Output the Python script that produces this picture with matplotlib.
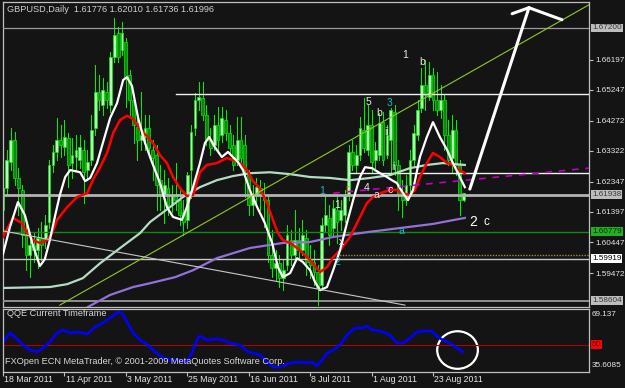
import matplotlib
matplotlib.use("Agg")
import matplotlib.pyplot as plt
from matplotlib.patches import Rectangle, Ellipse

plt.rcParams['font.family'] = ['Liberation Sans', 'DejaVu Sans']

# --- candles (bar index 0 = 18 Mar 2011) ---
opens = [1.6146, 1.6215, 1.6297, 1.6367, 1.6246, 1.6209, 1.6067, 1.6003, 1.6035, 1.6019,
         1.6057, 1.6051, 1.6108, 1.6288, 1.6329, 1.6367, 1.6344, 1.6373, 1.6294, 1.6313,
         1.6303, 1.6335, 1.6272, 1.6303, 1.6404, 1.6518, 1.6477, 1.6518, 1.6477, 1.6629,
         1.6705, 1.6651, 1.6676, 1.6572, 1.6493, 1.6407, 1.6367, 1.6376, 1.6404, 1.6335,
         1.6319, 1.6240, 1.6193, 1.6215, 1.6162, 1.6193, 1.6177, 1.6139, 1.6114, 1.6272,
         1.6404, 1.6493, 1.6499, 1.6445, 1.6367, 1.6351, 1.6414, 1.6382, 1.6430, 1.6389,
         1.6351, 1.6303, 1.6367, 1.6351, 1.6256, 1.6162, 1.6193, 1.6215, 1.6193, 1.6177,
         1.6003, 1.5963, 1.5978, 1.5931, 1.5972, 1.6051, 1.6003, 1.6051, 1.6019, 1.6057,
         1.5988, 1.5982, 1.5950, 1.5909, 1.6099, 1.6121, 1.6089, 1.6146, 1.6114, 1.6130,
         1.6193, 1.6329, 1.6288, 1.6319, 1.6398, 1.6335, 1.6414, 1.6303, 1.6319, 1.6423,
         1.6319, 1.6367, 1.6455, 1.6288, 1.6193, 1.6177, 1.6224, 1.6303, 1.6382, 1.6468,
         1.6540, 1.6502, 1.6572, 1.6493, 1.6461, 1.6493, 1.6382, 1.6310, 1.6398, 1.6288,
         1.6178]
highs = [1.6249, 1.6335, 1.6404, 1.6392, 1.6278, 1.6224, 1.6099, 1.6067, 1.6077, 1.6089,
         1.6108, 1.6130, 1.6303, 1.6351, 1.6436, 1.6414, 1.6430, 1.6389, 1.6373, 1.6382,
         1.6382, 1.6367, 1.6335, 1.6445, 1.6603, 1.6572, 1.6562, 1.6549, 1.6645, 1.6752,
         1.6724, 1.6739, 1.6689, 1.6588, 1.6509, 1.6445, 1.6518, 1.6445, 1.6445, 1.6367,
         1.6351, 1.6288, 1.6272, 1.6246, 1.6224, 1.6294, 1.6209, 1.6177, 1.6266, 1.6414,
         1.6515, 1.6549, 1.6549, 1.6477, 1.6404, 1.6445, 1.6471, 1.6471, 1.6461, 1.6414,
         1.6382, 1.6439, 1.6439, 1.6382, 1.6272, 1.6224, 1.6246, 1.6240, 1.6231, 1.6193,
         1.6083, 1.6019, 1.6003, 1.5988, 1.6099, 1.6083, 1.6146, 1.6089, 1.6114, 1.6083,
         1.6035, 1.6019, 1.5972, 1.6121, 1.6193, 1.6162, 1.6177, 1.6187, 1.6177, 1.6209,
         1.6351, 1.6367, 1.6351, 1.6439, 1.6499, 1.6477, 1.6461, 1.6360, 1.6452, 1.6455,
         1.6414, 1.6468, 1.6477, 1.6303, 1.6240, 1.6256, 1.6335, 1.6414, 1.6493, 1.6594,
         1.6619, 1.6613, 1.6594, 1.6581, 1.6540, 1.6509, 1.6430, 1.6445, 1.6430, 1.6303,
         1.6201]
lows = [1.6130, 1.6193, 1.6272, 1.6224, 1.6130, 1.6029, 1.5956, 1.5934, 1.5982, 1.5963,
        1.5988, 1.6026, 1.6089, 1.6266, 1.6303, 1.6313, 1.6319, 1.6218, 1.6246, 1.6272,
        1.6278, 1.6168, 1.6240, 1.6288, 1.6382, 1.6461, 1.6445, 1.6467, 1.6455, 1.6613,
        1.6613, 1.6635, 1.6471, 1.6445, 1.6357, 1.6303, 1.6335, 1.6335, 1.6313, 1.6240,
        1.6146, 1.6146, 1.6105, 1.6130, 1.6139, 1.6146, 1.6099, 1.6067, 1.6089, 1.6184,
        1.6382, 1.6461, 1.6430, 1.6351, 1.6319, 1.6335, 1.6335, 1.6360, 1.6367, 1.6319,
        1.6272, 1.6288, 1.6288, 1.6187, 1.6130, 1.6130, 1.6162, 1.6146, 1.6092, 1.5982,
        1.5934, 1.5925, 1.5903, 1.5893, 1.5956, 1.5972, 1.5982, 1.5994, 1.6003, 1.5941,
        1.5931, 1.5909, 1.5846, 1.5893, 1.6077, 1.6035, 1.6067, 1.6042, 1.6083, 1.6108,
        1.6177, 1.6272, 1.6266, 1.6303, 1.6329, 1.6319, 1.6262, 1.6278, 1.6303, 1.6288,
        1.6310, 1.6256, 1.6256, 1.6146, 1.6124, 1.6162, 1.6193, 1.6288, 1.6367, 1.6455,
        1.6461, 1.6493, 1.6461, 1.6445, 1.6436, 1.6335, 1.6288, 1.6266, 1.6256, 1.6130,
        1.6174]
closes = [1.6215, 1.6303, 1.6367, 1.6246, 1.6215, 1.6067, 1.6003, 1.6035, 1.6019, 1.6057,
          1.6035, 1.6099, 1.6288, 1.6329, 1.6367, 1.6351, 1.6376, 1.6288, 1.6319, 1.6335,
          1.6344, 1.6266, 1.6297, 1.6398, 1.6518, 1.6493, 1.6524, 1.6493, 1.6629, 1.6698,
          1.6629, 1.6705, 1.6565, 1.6493, 1.6414, 1.6367, 1.6382, 1.6404, 1.6341, 1.6310,
          1.6224, 1.6193, 1.6224, 1.6162, 1.6193, 1.6177, 1.6130, 1.6108, 1.6256, 1.6392,
          1.6493, 1.6502, 1.6445, 1.6367, 1.6341, 1.6414, 1.6367, 1.6436, 1.6389, 1.6341,
          1.6288, 1.6367, 1.6310, 1.6272, 1.6162, 1.6193, 1.6218, 1.6193, 1.6177, 1.6003,
          1.5963, 1.5978, 1.5931, 1.5956, 1.6067, 1.6003, 1.6051, 1.6019, 1.6067, 1.5982,
          1.5972, 1.5950, 1.5900, 1.6099, 1.6130, 1.6067, 1.6152, 1.6108, 1.6146, 1.6193,
          1.6329, 1.6288, 1.6319, 1.6404, 1.6341, 1.6414, 1.6297, 1.6335, 1.6420, 1.6303,
          1.6382, 1.6461, 1.6288, 1.6193, 1.6177, 1.6224, 1.6303, 1.6389, 1.6461, 1.6540,
          1.6509, 1.6572, 1.6493, 1.6461, 1.6493, 1.6382, 1.6303, 1.6398, 1.6288, 1.6177,
          1.6200]

# --- moving averages, read as (bar, price) vertices ---
white_bars = [0.0, 1.8, 3.9, 5.7, 7.6, 9.6, 10.9, 12.2, 13.5, 14.8, 16.2, 17.5, 20.1, 21.4,
              22.7, 24.5, 26.0, 27.9, 29.7, 31.3, 32.3, 33.6, 35.2, 37.0, 38.8, 40.9, 42.7,
              44.3, 46.6, 47.9, 49.5, 51.3, 52.6, 53.7, 55.2, 57.0, 58.6, 59.9, 61.2, 62.5,
              64.3, 66.2, 68.2, 70.1, 71.6, 72.9, 74.8, 76.6, 78.1, 80.0, 81.3, 82.6, 84.4,
              86.0, 87.8, 89.6, 91.2, 93.0, 94.3, 96.1, 98.2, 100.0, 101.3, 102.6, 104.2,
              105.5, 106.8, 108.6, 110.4, 112.0, 113.8, 115.7, 117.2, 119.0, 120.3]
white_vals = [1.6007, 1.6092, 1.6171, 1.6130, 1.6042, 1.5969, 1.5991, 1.6051, 1.6124, 1.6193,
              1.6250, 1.6272, 1.6265, 1.6237, 1.6247, 1.6294, 1.6357, 1.6436, 1.6483, 1.6556,
              1.6565, 1.6537, 1.6436, 1.6357, 1.6297, 1.6231, 1.6155, 1.6124, 1.6115, 1.6155,
              1.6218, 1.6294, 1.6357, 1.6376, 1.6344, 1.6313, 1.6329, 1.6313, 1.6297, 1.6272,
              1.6209, 1.6155, 1.6105, 1.6042, 1.5966, 1.5934, 1.5947, 1.5994, 1.5982, 1.5956,
              1.5918, 1.5893, 1.5903, 1.5956, 1.6019, 1.6105, 1.6177, 1.6250, 1.6281, 1.6278,
              1.6262, 1.6250, 1.6240, 1.6231, 1.6199, 1.6177, 1.6209, 1.6313, 1.6376, 1.6423,
              1.6376, 1.6335, 1.6294, 1.6250, 1.6218]

red_bars = [0.0, 2.6, 4.9, 6.3, 7.8, 9.6, 11.5, 12.8, 14.1, 16.7, 19.3, 21.9, 23.4, 25.3,
            27.1, 28.7, 30.5, 32.3, 33.9, 35.7, 37.5, 39.1, 40.9, 42.7, 44.3, 46.1, 47.9,
            49.5, 51.3, 53.1, 55.7, 58.3, 59.9, 61.7, 63.6, 65.1, 66.9, 68.8, 70.3, 71.6,
            72.9, 74.8, 76.6, 78.1, 80.0, 82.6, 84.4, 86.0, 87.8, 90.4, 93.0, 94.8, 96.4,
            99.0, 100.8, 102.6, 104.2, 106.0, 107.3, 108.6, 110.4, 112.0, 113.8, 115.7,
            117.2, 119.0, 120.3]
red_vals = [1.6061, 1.6121, 1.6105, 1.6073, 1.6051, 1.6042, 1.6051, 1.6073, 1.6115, 1.6155,
            1.6187, 1.6199, 1.6240, 1.6281, 1.6326, 1.6389, 1.6430, 1.6443, 1.6433, 1.6401,
            1.6379, 1.6357, 1.6319, 1.6294, 1.6250, 1.6215, 1.6190, 1.6193, 1.6265, 1.6288,
            1.6294, 1.6310, 1.6303, 1.6294, 1.6272, 1.6237, 1.6215, 1.6168, 1.6115, 1.6073,
            1.6051, 1.6042, 1.6026, 1.6010, 1.5988, 1.5950, 1.5966, 1.5997, 1.6019, 1.6061,
            1.6124, 1.6168, 1.6187, 1.6202, 1.6209, 1.6209, 1.6199, 1.6193, 1.6209, 1.6250,
            1.6294, 1.6326, 1.6313, 1.6294, 1.6288, 1.6272, 1.6262]

mint_bars = [0.0, 12.2, 16.7, 20.8, 25.3, 30.5, 35.7, 38.3, 43.5, 46.9, 51.3, 55.7, 59.9,
             64.3, 69.5, 74.8, 80.0, 85.2, 90.4, 95.6, 100.8, 106.0, 110.4, 114.6, 120.3]
mint_vals = [1.5900, 1.5903, 1.5912, 1.5931, 1.5978, 1.6026, 1.6073, 1.6108, 1.6155, 1.6187,
             1.6218, 1.6240, 1.6253, 1.6262, 1.6265, 1.6259, 1.6250, 1.6247, 1.6240, 1.6247,
             1.6256, 1.6278, 1.6288, 1.6294, 1.6288]

purple_bars = [22.1, 27.9, 33.9, 38.3, 44.8, 49.5, 55.7, 64.3, 72.9, 80.0, 86.0, 94.8,
               103.4, 112.0, 120.3]
purple_vals = [1.5840, 1.5878, 1.5903, 1.5915, 1.5934, 1.5956, 1.5994, 1.6026, 1.6042,
               1.6045, 1.6061, 1.6076, 1.6089, 1.6102, 1.6121]

# --- QQE sub-window ---
qqe_bars = [0.0, 1.8, 3.1, 5.2, 7.0, 8.9, 10.4, 12.2, 14.1, 15.6, 17.5, 19.5, 21.9, 24.0,
            26.0, 27.9, 30.0, 31.0, 32.3, 33.9, 35.7, 37.8, 39.6, 41.7, 43.5, 46.1, 47.9,
            49.2, 50.5, 51.3, 53.1, 55.7, 57.3, 59.1, 61.7, 63.8, 65.1, 66.9, 68.8, 70.3,
            72.2, 74.8, 77.4, 79.2, 80.5, 81.8, 83.1, 84.4, 86.0, 87.8, 89.6, 91.7, 93.5,
            94.8, 96.1, 98.2, 99.5, 100.8, 102.6, 104.2, 106.0, 107.8, 109.4, 111.7, 113.3,
            114.6, 116.4, 118.2, 119.8]
qqe_vals = [51.6, 56.4, 54.2, 50.0, 47.3, 46.3, 48.4, 51.6, 56.4, 58.0, 56.4, 56.9, 55.8,
            59.6, 61.7, 64.4, 67.5, 67.0, 62.2, 56.4, 52.6, 50.0, 46.3, 43.1, 42.0, 42.0,
            40.9, 45.7, 52.6, 54.8, 52.6, 53.2, 52.6, 51.0, 50.0, 46.3, 45.7, 44.7, 40.9,
            38.3, 38.3, 40.4, 40.9, 40.4, 40.9, 38.8, 42.0, 45.7, 47.3, 50.0, 55.3, 59.0,
            59.0, 60.1, 58.0, 57.4, 56.4, 55.3, 51.0, 51.0, 53.7, 56.9, 57.4, 57.4, 54.2,
            52.6, 51.0, 48.4, 46.3]
qqe_max = 69.137
qqe_min = 35.6085

# --- axis texts ---
date_bars = [0, 16, 32, 48, 64, 80, 96, 112]
date_labels = ["18 Mar 2011", "11 Apr 2011", "3 May 2011", "25 May 2011",
               "16 Jun 2011", "8 Jul 2011", "1 Aug 2011", "23 Aug 2011"]
price_ticks = [1.66197, 1.65247, 1.64272, 1.63322, 1.62347, 1.61397, 1.60447, 1.59472]

# --- chart objects ---
level_gray_top = 1.67200
level_gray_mid = 1.61938
level_green = 1.60779
level_white_low = 1.59919
level_gray_low = 1.58604
white_hline1 = (45.1, 1.6512)
white_hline2 = (90.1, 1.6263)
olive_hline = (86.2, 1.6004)
green_trend = ([14.8, 152.6], [1.5846, 1.6793])
gray_trend = ([0.0, 104.7], [1.6080, 1.5846])
magenta_trend = ([86.0, 152.6], [1.6199, 1.6278])
arrow_shaft = ([121.6, 137.0], [1.6212, 1.6784])
arrow_left = ([137.0, 132.6], [1.6784, 1.6765])
arrow_right = ([137.0, 145.6], [1.6784, 1.6746])

label_bars = [104.7, 109.1, 95.1, 97.9, 100.8, 100.0, 101.8, 94.8, 97.2, 100.8,
              83.1, 87.0, 88.3, 87.0, 103.9, 89.6]
label_prices = [1.6635, 1.6613, 1.6487, 1.6452, 1.6483, 1.6392, 1.6281, 1.6216, 1.6194,
                1.6209, 1.6206, 1.6162, 1.6045, 1.5982, 1.6080, 1.6213]
label_texts = ["1", "b", "5", "b", "3", "ii", "ii", "4", "a", "c",
               "1", "1", "x", "2", "a", "r"]
label_colors = ["#e8e8e8", "#e8e8e8", "#e8e8e8", "#e8e8e8", "#20b8b8", "#e8e8e8",
                "#c0c0c0", "#e8e8e8", "#e8e8e8", "#e8e8e8", "#20b8b8", "#e8e8e8",
                "#ffffff", "#20b8b8", "#20b8b8", "#d08020"]

BG = "#141414"
FRAME = "#c0c0c0"
W, H = 625, 388
FS = 5.9

fig = plt.figure(figsize=(6.25, 3.88), dpi=100, facecolor=BG)
ax = fig.add_axes([3 / W, 1 - 307 / H, 586 / W, 305 / H], facecolor=BG)
qx = fig.add_axes([3 / W, 1 - 372 / H, 586 / W, 63 / H], facecolor=BG)

xmax = 586 / 3.839
for a in (ax, qx):
    a.set_xlim(0, xmax)
    for s in a.spines.values():
        s.set_color(FRAME)
        s.set_linewidth(0.9)
ax.set_ylim(1.5840, 1.6802)
qx.set_ylim(qqe_min, qqe_max)

# candles
for i in range(len(closes)):
    o, h, l, c = opens[i], highs[i], lows[i], closes[i]
    ax.plot([i, i], [l, h], color="#00ee00", lw=0.75, zorder=2)
    fc = "#b8f5b8" if c >= o else "#0a8a0a"
    ax.add_patch(Rectangle((i - 0.36, min(o, c)), 0.72, max(abs(c - o), 0.0002),
                           facecolor=fc, edgecolor="#00ee00", lw=0.5, zorder=2))

# horizontal levels
ax.axhline(level_gray_top, color="#9a9a9a", lw=0.9, zorder=3)
ax.axhline(level_gray_mid, color="#b4b4b4", lw=2.0, zorder=3)
ax.axhline(level_green, color="#128a12", lw=1.0, zorder=3)
ax.axhline(level_white_low, color="#c8c8c8", lw=1.0, zorder=3)
ax.axhline(level_gray_low, color="#909090", lw=1.4, zorder=3)
ax.plot([white_hline1[0], xmax], [white_hline1[1]] * 2, color="#f0f0f0", lw=1.0, zorder=3)
ax.plot([white_hline2[0], xmax], [white_hline2[1]] * 2, color="#f0f0f0", lw=1.0, zorder=3)
ax.plot([olive_hline[0], xmax], [olive_hline[1]] * 2, color="#9a8a40", lw=1.0,
        ls=(0, (1, 1)), zorder=3)

# moving averages
ax.plot(purple_bars, purple_vals, color="#9370db", lw=1.6, zorder=4)
ax.plot(mint_bars, mint_vals, color="#b4dcc4", lw=1.6, zorder=4)
ax.plot(red_bars, red_vals, color="#ff0000", lw=1.8, zorder=4)
ax.plot(white_bars, white_vals, color="#ffffff", lw=1.6, zorder=4)

# trend lines
ax.plot(*green_trend, color="#8fcb1f", lw=0.8, zorder=5)
ax.plot(*gray_trend, color="#c8c8c8", lw=0.8, zorder=5)
ax.plot(*magenta_trend, color="#c000c0", lw=1.2, ls=(0, (4, 4)), zorder=5)

# big arrow
for seg in (arrow_shaft, arrow_left, arrow_right):
    ax.plot(*seg, color="#ffffff", lw=2.2, solid_capstyle="round", zorder=6)

# wave labels
for b, p, t, c in zip(label_bars, label_prices, label_texts, label_colors):
    ax.text(b, p, t, color=c, fontsize=7.5, ha="center", va="center", zorder=7)
ax.text(122.4, 1.6108, "2", color="#ffffff", fontsize=10, ha="center", va="center", zorder=7)
ax.text(125.8, 1.6108, "c", color="#ffffff", fontsize=8.5, ha="center", va="center", zorder=7)

# right price scale
ax.yaxis.tick_right()
ax.set_yticks(price_ticks)
ax.set_yticklabels([f"{v:.5f}" for v in price_ticks])
ax.tick_params(axis="y", length=3, color=FRAME, labelcolor="#e6e6e6", labelsize=FS, pad=1.5)
ax.set_xticks([])

boxed = [(level_gray_top, "#bdbdbd", "#3a3a3a"), (level_gray_mid, "#bdbdbd", "#3a3a3a"),
         (level_green, "#22b022", "#0a300a"), (level_white_low, "#ffffff", "#000000"),
         (level_gray_low, "#bdbdbd", "#3a3a3a")]
for v, fc, tc in boxed:
    ax.text(1.005, v, f"{v:.5f}", transform=ax.get_yaxis_transform(), ha="left",
            va="center", fontsize=FS, color=tc, zorder=8, clip_on=False,
            bbox=dict(boxstyle="square,pad=0.12", fc=fc, ec="none"))

fig.text(7 / W, 1 - 10 / H, "GBPUSD,Daily  1.61776 1.62010 1.61736 1.61996",
         color="#d0d0d0", fontsize=6.6, va="center", ha="left")

# QQE
qx.axhline(50, color="#b00000", lw=0.8)
qx.plot(qqe_bars, qqe_vals, color="#0000ff", lw=1.9)
qx.add_patch(Ellipse((118.4, 47.3), 10.6, 20.0, fill=False, ec="#ffffff", lw=1.6))
qx.set_yticks([])
qx.set_xticks(date_bars)
qx.set_xticklabels([])
qx.tick_params(axis="x", length=3, color=FRAME, direction="out")
for b, lab in zip(date_bars, date_labels):
    qx.text(b + 0.3, -0.05, lab, transform=qx.get_xaxis_transform(), ha="left", va="top",
            fontsize=6.3, color="#e6e6e6", clip_on=False)
qx.text(1.005, 0.97, f"{qqe_max:.3f}", transform=qx.transAxes, ha="left", va="top",
        fontsize=FS, color="#e6e6e6", clip_on=False)
qx.text(1.005, 0.04, f"{qqe_min:.4f}", transform=qx.transAxes, ha="left", va="bottom",
        fontsize=FS, color="#e6e6e6", clip_on=False)
qx.text(1.005, 50, "50", transform=qx.get_yaxis_transform(), ha="left", va="center",
        fontsize=FS, color="#600000", clip_on=False,
        bbox=dict(boxstyle="square,pad=0.12", fc="#ff0000", ec="none"))
fig.text(7 / W, 1 - 314 / H, "QQE Current Timeframe", color="#d8d8d8", fontsize=6.6,
         va="center", ha="left")
fig.text(5 / W, 1 - 362 / H, "FXOpen ECN MetaTrader, \u00a9 2001-2009 MetaQuotes Software Corp.",
         color="#d8d8d8", fontsize=6.6, va="center", ha="left")

fig.savefig("out.png", dpi=100, facecolor=BG)
